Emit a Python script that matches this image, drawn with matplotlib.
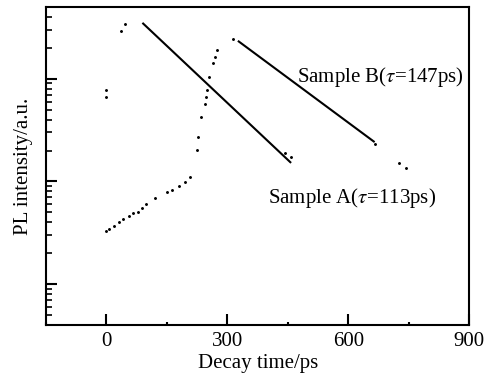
import matplotlib
matplotlib.use("Agg")
import matplotlib.pyplot as plt
from matplotlib.ticker import LogLocator, NullFormatter, MultipleLocator
import numpy as np

plt.rcParams['font.family'] = ['Liberation Serif', 'DejaVu Serif']
plt.rcParams['mathtext.fontset'] = 'stix'

# Sample A measured points (visible)
a_t = [0, 0, 35, 45, 442, 458]
a_i = [76.9, 65.8, 295, 345, 18.9, 17.5]
# Sample A fit line endpoints
a_fit_t = [91, 456]
a_fit_i = [345, 15.4]

# Sample B measured points (visible)
b_t = [0, 7, 19, 30, 42, 55, 66, 77, 88, 98, 120, 150, 163, 181, 194, 206,
       224, 228, 235, 244, 247, 250, 255, 264, 270, 275, 314, 667, 726, 742]
b_i = [3.26, 3.46, 3.70, 3.99, 4.31, 4.64, 4.92, 5.07, 5.51, 6.03, 6.89, 7.82,
       8.17, 8.94, 9.78, 11.0, 20.4, 27.4, 42.6, 57.0, 66.3, 76.9, 104, 141,
       164, 190, 245, 23.1, 15.1, 13.5]
# Sample B fit line endpoints
b_fit_t = [328, 663]
b_fit_i = [231, 24.5]

xticks = [0, 300, 600, 900]

fig = plt.figure(figsize=(4.93, 3.79), dpi=100)
ax = fig.add_axes([0.0933, 0.1425, 0.8587, 0.839])

ax.plot(a_t, a_i, 'k.', markersize=2.2, linestyle='none')
ax.plot(b_t, b_i, 'k.', markersize=2.2, linestyle='none')
ax.plot(a_fit_t, a_fit_i, 'k-', linewidth=1.5)
ax.plot(b_fit_t, b_fit_i, 'k-', linewidth=1.5)

ax.set_yscale('log')
ax.set_xlim(-150, 900)
ax.set_ylim(0.4, 500)
ax.set_xticks(xticks)
ax.set_xticklabels([str(v) for v in xticks])
ax.xaxis.set_minor_locator(MultipleLocator(150))
ax.yaxis.set_major_locator(LogLocator(base=10))
ax.yaxis.set_minor_locator(LogLocator(base=10, subs=np.arange(2, 10)))
ax.yaxis.set_major_formatter(NullFormatter())
ax.yaxis.set_minor_formatter(NullFormatter())

ax.tick_params(axis='both', which='major', direction='in', width=1.5,
               labelsize=15, top=False, right=False)
ax.tick_params(axis='y', which='major', length=8)
ax.tick_params(axis='y', which='minor', direction='in', length=4, width=1.2)
ax.tick_params(axis='x', which='major', length=8, pad=5)
ax.tick_params(axis='x', which='minor', direction='in', length=2.5, width=1.5)

for s in ax.spines.values():
    s.set_linewidth(1.5)

ax.set_xlabel('Decay time/ps', fontsize=15, labelpad=2)
ax.set_ylabel('PL intensity/a.u.', fontsize=15, labelpad=6)

ax.text(0.593, 0.78, r'Sample B($\tau$=147ps)', transform=ax.transAxes,
        fontsize=15, ha='left', va='center')
ax.text(0.524, 0.40, r'Sample A($\tau$=113ps)', transform=ax.transAxes,
        fontsize=15, ha='left', va='center')

fig.savefig('out.png', dpi=100)
